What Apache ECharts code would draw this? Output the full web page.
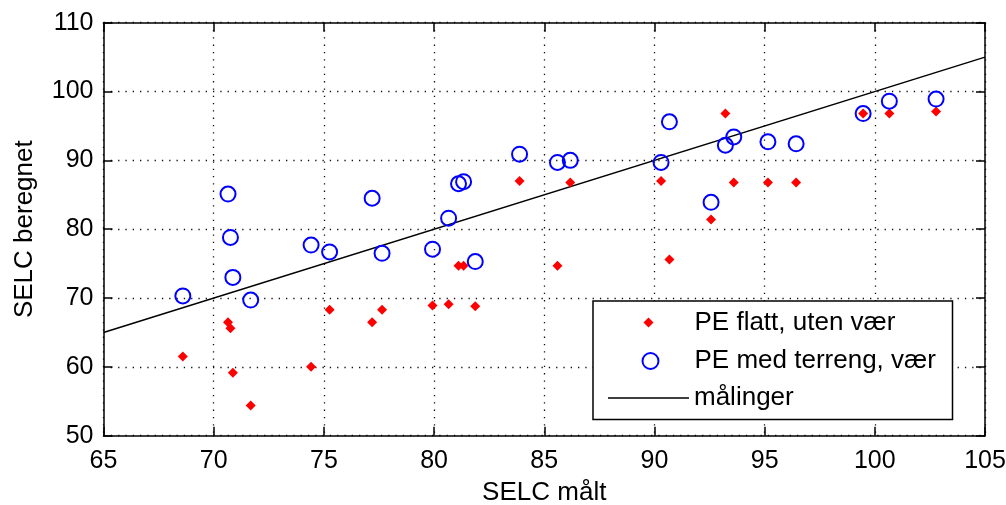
<!DOCTYPE html>
<html>
<head>
<meta charset="utf-8">
<script src="https://cdn.jsdelivr.net/npm/echarts@6/dist/echarts.min.js"></script>
<style>
  html, body { margin: 0; padding: 0; background: #fff; }
  #chart { width: 1006px; height: 505px; }
</style>
</head>
<body>
<div id="chart"></div>
<script>
// Measured SELC (x) against two calculated estimates (y)
const measured = [68.6, 70.65, 70.76, 70.87, 71.68, 74.42, 75.26, 77.19, 77.64, 79.93, 80.66, 81.11, 81.34, 81.87,
  83.88, 85.6, 86.18, 90.3, 90.68, 92.57, 93.22, 93.6, 95.15, 96.43, 99.47, 100.66, 102.78];
const flatNoWeather = [61.5, 66.5, 65.6, 59.15, 54.4, 60.0, 68.3, 66.5, 68.3, 68.9, 69.1, 74.7, 74.7, 68.8,
  87.0, 74.7, 86.8, 87.0, 75.6, 81.4, 96.8, 86.8, 86.8, 86.8, 96.8, 96.8, 97.1];
const terrainWeather = [70.3, 85.1, 78.8, 73.0, 69.7, 77.7, 76.7, 84.5, 76.5, 77.1, 81.6, 86.6, 86.9, 75.3,
  90.9, 89.7, 90.0, 89.7, 95.6, 83.9, 92.2, 93.4, 92.7, 92.4, 96.8, 98.6, 98.9];
// Reference line: calculated = measured
const referenceLine = [[65, 65], [105, 105]];

const xTicks = [65, 70, 75, 80, 85, 90, 95, 100, 105];
const yTicks = [50, 60, 70, 80, 90, 100, 110];

const names = ['PE flatt, uten vær', 'PE med terreng, vær', 'målinger'];

const FONT = 'Arial, "Liberation Sans", sans-serif';
const chart = echarts.init(document.getElementById('chart'), null, { renderer: 'canvas' });

const axisBase = {
  type: 'value',
  axisLine: { show: true, onZero: false, lineStyle: { color: '#000', width: 1.5 } },
  axisTick: { show: true, inside: true, length: 9, lineStyle: { color: '#000', width: 1.5 } },
  splitLine: { show: false },
  axisLabel: { show: false }
};

const gridDots = { show: true, lineStyle: { color: '#111', width: 1.3, type: [1.3, 6] } };
const legendText = { color: '#000', fontSize: 26, fontFamily: FONT };

chart.setOption({
  animation: false,
  backgroundColor: '#fff',
  grid: { left: 103.5, right: 21, top: 22.7, bottom: 69.3, containLabel: false, outerBoundsMode: 'none' },
  xAxis: [
    Object.assign({}, axisBase, {
      position: 'bottom',
      min: xTicks[0], max: xTicks[xTicks.length - 1], interval: 5,
      splitLine: gridDots,
      axisLabel: { show: true, margin: 13, color: '#000', fontSize: 25, fontFamily: FONT },
      name: 'SELC målt', nameLocation: 'middle', nameGap: 44,
      nameTextStyle: { color: '#000', fontSize: 26, fontFamily: FONT }
    }),
    Object.assign({}, axisBase, {
      position: 'top',
      min: xTicks[0], max: xTicks[xTicks.length - 1], interval: 5
    })
  ],
  yAxis: [
    Object.assign({}, axisBase, {
      position: 'left',
      min: yTicks[0], max: yTicks[yTicks.length - 1], interval: 10,
      splitLine: gridDots,
      axisLabel: { show: true, margin: 10, color: '#000', fontSize: 25, fontFamily: FONT },
      name: 'SELC beregnet', nameLocation: 'middle', nameGap: 66,
      nameTextStyle: { color: '#000', fontSize: 26, fontFamily: FONT }
    }),
    Object.assign({}, axisBase, {
      position: 'right',
      min: yTicks[0], max: yTicks[yTicks.length - 1], interval: 10
    })
  ],
  graphic: [{
    type: 'rect', z: 10,
    shape: { x: 593, y: 301, width: 359.5, height: 118.5 },
    style: { fill: '#fff', stroke: '#000', lineWidth: 1.5 }
  }],
  legend: [
    {
      z: 20, orient: 'vertical', left: 643.5, top: 309.5, padding: 0,
      itemWidth: 10, itemHeight: 10,
      data: [{ name: names[0], icon: 'diamond' }],
      itemStyle: { color: '#ff0000' },
      textStyle: Object.assign({ padding: [0, 0, 0, 36] }, legendText)
    },
    {
      z: 20, orient: 'vertical', left: 641.5, top: 348, padding: 0,
      itemWidth: 16, itemHeight: 16,
      data: [{ name: names[1], icon: 'circle' }],
      itemStyle: { color: 'transparent', borderColor: '#0000ff', borderWidth: 2 },
      textStyle: Object.assign({ padding: [0, 0, 0, 31] }, legendText)
    },
    {
      z: 20, orient: 'vertical', left: 608, top: 385, padding: 0,
      itemWidth: 81, itemHeight: 1.6,
      data: [{ name: names[2], icon: 'rect' }],
      itemStyle: { color: '#000', borderWidth: 0 },
      textStyle: legendText
    }
  ],
  series: [
    {
      name: names[2], type: 'line', xAxisIndex: 0, yAxisIndex: 0,
      data: referenceLine, showSymbol: false, symbol: 'none',
      lineStyle: { color: '#000', width: 1.5 }, itemStyle: { color: '#000' }, z: 3
    },
    {
      name: names[0], type: 'scatter', xAxisIndex: 0, yAxisIndex: 0,
      data: measured.map((m, i) => [m, flatNoWeather[i]]),
      symbol: 'diamond', symbolSize: 10,
      itemStyle: { color: '#ff0000', opacity: 1 }, z: 4
    },
    {
      name: names[1], type: 'scatter', xAxisIndex: 0, yAxisIndex: 0,
      data: measured.map((m, i) => [m, terrainWeather[i]]),
      symbol: 'circle', symbolSize: 15,
      itemStyle: { color: 'transparent', borderColor: '#0000ff', borderWidth: 2, opacity: 1 }, z: 5
    }
  ]
});
</script>
</body>
</html>
